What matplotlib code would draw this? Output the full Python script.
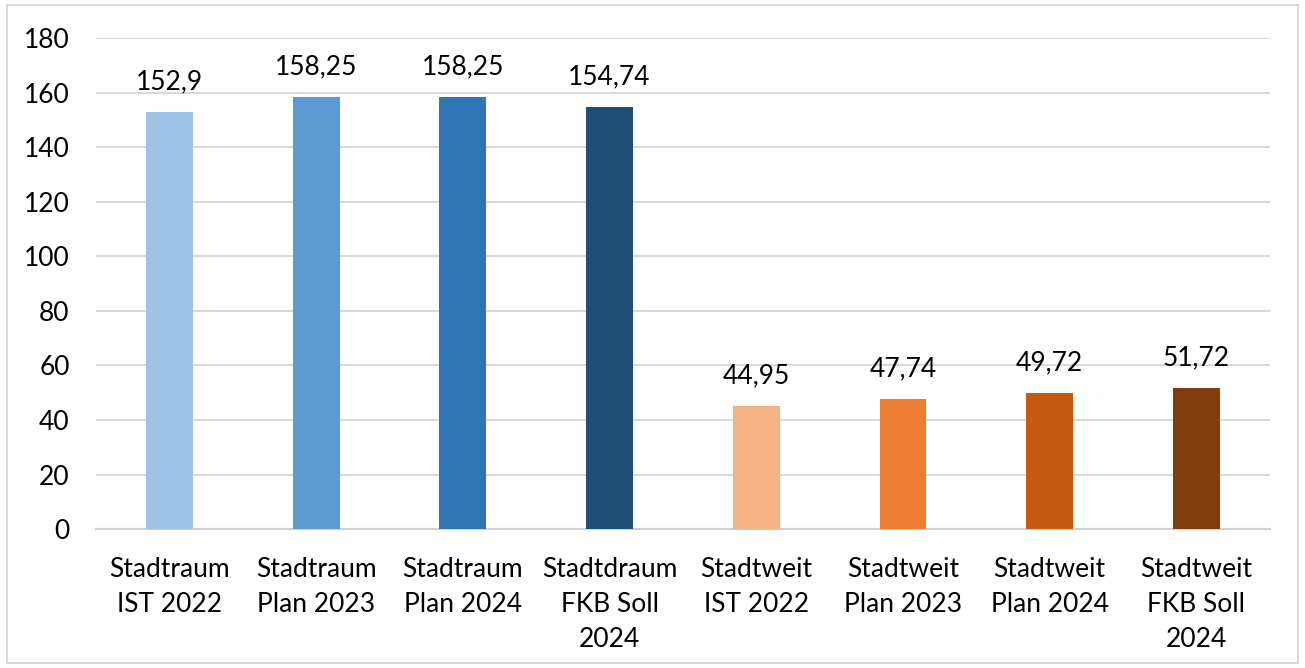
import matplotlib.pyplot as plt
from matplotlib.patches import Rectangle

# data
categories = ["Stadtraum\nIST 2022", "Stadtraum\nPlan 2023", "Stadtraum\nPlan 2024",
              "Stadtdraum\nFKB Soll\n2024", "Stadtweit\nIST 2022", "Stadtweit\nPlan 2023",
              "Stadtweit\nPlan 2024", "Stadtweit\nFKB Soll\n2024"]
values = [152.9, 158.25, 158.25, 154.74, 44.95, 47.74, 49.72, 51.72]
colors = ["#9DC3E6", "#5B9BD5", "#2E75B6", "#1F4E79",
          "#F4B183", "#ED7D31", "#C55A11", "#843C0C"]

plt.rcParams['font.family'] = ['Lato', 'DejaVu Sans']

fig = plt.figure(figsize=(13.05, 6.68), dpi=100)
ax = fig.add_axes([0.0736, 0.208, 0.8994, 0.735])

x = range(len(values))
bars = ax.bar(x, values, width=0.32, color=colors, zorder=3)

for b, v in zip(bars, values):
    label = f"{v:g}".replace(".", ",")
    ax.text(b.get_x() + b.get_width() / 2, v + 6.5, label,
            ha="center", va="bottom", fontsize=19, color="#000000")

ax.set_xlim(-0.5, len(values) - 0.5)
ax.set_ylim(0, 180)
ax.set_yticks(range(0, 181, 20))
ax.yaxis.grid(True, color="#D9D9D9", linewidth=1.5, zorder=0)
ax.set_axisbelow(True)

for s in ["top", "right", "left"]:
    ax.spines[s].set_visible(False)
ax.spines["bottom"].set_color("#D0D0D0")
ax.spines["bottom"].set_linewidth(1.5)

ax.set_xticks(list(x))
ax.set_xticklabels(categories, fontsize=19, linespacing=1.5, va="top")
ax.tick_params(axis="x", length=0, pad=20)
ax.tick_params(axis="y", length=0, pad=19, labelsize=19)

# light border around the chart
fig.patches.append(Rectangle((0.005, 0.008), 0.99, 0.984, transform=fig.transFigure,
                             fill=False, edgecolor="#D9D9D9", linewidth=1.5))

fig.savefig("out.png", dpi=100)
